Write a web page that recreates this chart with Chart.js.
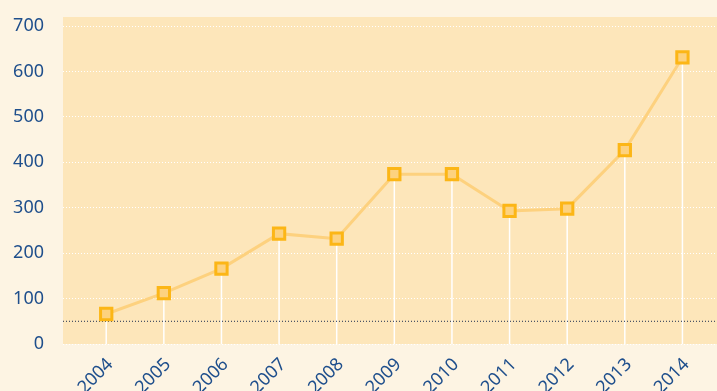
<!DOCTYPE html>
<html>
<head>
<meta charset="utf-8">
<script src="https://cdn.jsdelivr.net/npm/chart.js@4/dist/chart.umd.min.js"></script>
<style>
  html, body { margin:0; padding:0; background:#fdf4e3; }
  #wrap { width:717px; height:391px; position:relative; }
</style>
</head>
<body>
<div id="wrap"><canvas id="trend"></canvas></div>
<script>
// yearly values, read per point
const years = [2004, 2005, 2006, 2007, 2008, 2009, 2010, 2011, 2012, 2013, 2014];
const values = [66, 112, 166, 243, 232, 374, 374, 293, 298, 427, 631];
const yTicks = [0, 100, 200, 300, 400, 500, 600, 700];
const thresholdValue = 50;
const xRange = [2003.25, 2014.6];
const yRange = [0, 720];

const AXIS_BLUE = '#1f4f8c';

// plot background + white drop lines under each point
const plotBg = {
  id: 'plotBg',
  beforeDraw(chart){
    const {ctx, chartArea:a} = chart;
    ctx.save();
    ctx.fillStyle = '#fde6ba';
    ctx.fillRect(a.left, a.top, a.right - a.left, a.bottom - a.top);
    ctx.restore();
  },
  beforeDatasetsDraw(chart){
    const {ctx, scales} = chart;
    const yBase = scales.y.getPixelForValue(0);
    ctx.save();
    ctx.strokeStyle = '#ffffff';
    ctx.lineWidth = 1.5;
    years.forEach((yr, i) => {
      const px = scales.x.getPixelForValue(yr);
      const py = scales.y.getPixelForValue(values[i]);
      ctx.beginPath();
      ctx.moveTo(px, py);
      ctx.lineTo(px, yBase);
      ctx.stroke();
    });
    ctx.restore();
  }
};

new Chart(document.getElementById('trend'), {
  type: 'line',
  data: {
    datasets: [
      {
        data: years.map((yr, i) => ({x: yr, y: values[i]})),
        borderColor: '#fdd17e',
        borderWidth: 3,
        pointStyle: 'rect',
        pointRadius: 8,
        pointBorderWidth: 3,
        pointBorderColor: '#fcb616',
        pointBackgroundColor: '#fdd27f',
        tension: 0,
        order: 1
      },
      {
        data: xRange.map(x => ({x, y: thresholdValue})),
        borderColor: '#1b2d4f',
        borderWidth: 1,
        borderDash: [1, 2],
        pointRadius: 0,
        order: 2
      }
    ]
  },
  options: {
    responsive: true,
    maintainAspectRatio: false,
    animation: false,
    layout: { autoPadding: false, padding: { top: 17, right: 0, left: 0, bottom: 0 } },
    plugins: { legend: { display:false }, tooltip: { enabled:false } },
    scales: {
      x: {
        type: 'linear',
        min: xRange[0],
        max: xRange[1],
        afterBuildTicks: ax => { ax.ticks = years.map(v => ({value: v})); },
        afterFit: ax => {
          ax.height = 47;
          ax.paddingLeft = 0;
          ax.paddingRight = 0;
        },
        grid: { display:false },
        border: { display:false },
        ticks: {
          color: AXIS_BLUE,
          font: { family: 'Noto Sans', size: 18 },
          minRotation: 45,
          maxRotation: 45,
          autoSkip: false,
          padding: 2,
          labelOffset: 4,
          callback: v => String(v)
        }
      },
      y: {
        min: yRange[0],
        max: yRange[1],
        afterBuildTicks: ax => { ax.ticks = yTicks.map(v => ({value: v})); },
        afterFit: ax => {
          ax.width = 63;
          ax.paddingTop = 0;
          ax.paddingBottom = 0;
        },
        grid: { color: '#ffffff', lineWidth: 1, drawTicks: false },
        border: { display:false, dash: [1, 2] },
        ticks: {
          color: AXIS_BLUE,
          font: { family: 'Noto Sans', size: 18 },
          padding: 19,
          callback: v => String(v)
        }
      }
    }
  },
  plugins: [plotBg]
});
</script>
</body>
</html>
